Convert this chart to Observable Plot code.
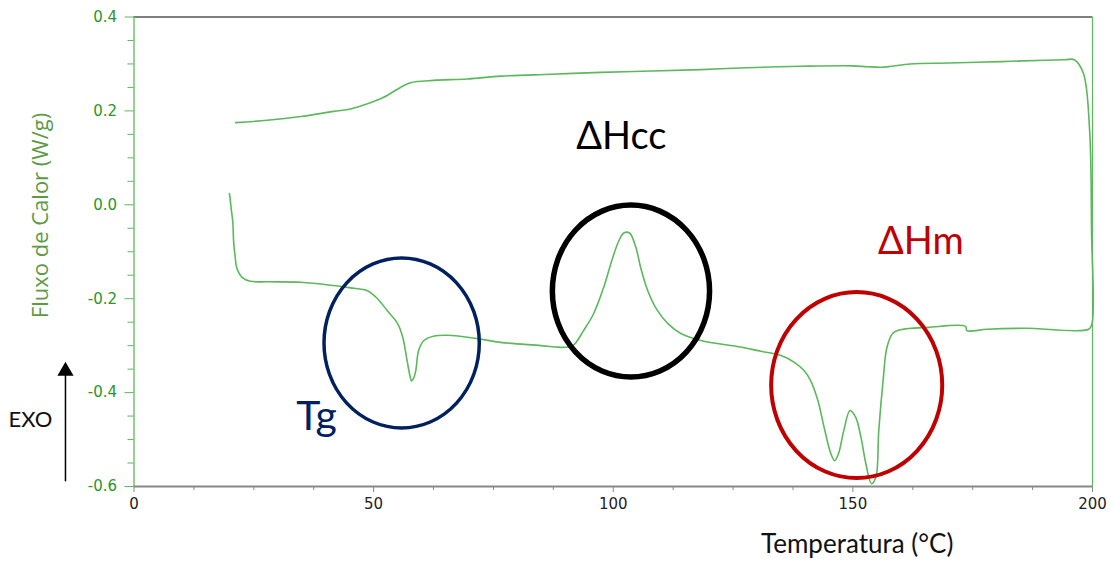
<!DOCTYPE html>
<html><head><meta charset="utf-8">
<script src="https://cdn.jsdelivr.net/npm/d3@7"></script>
<script src="https://cdn.jsdelivr.net/npm/@observablehq/plot@0.6"></script>
<style>body{margin:0;background:#fff} #chart svg{display:block}</style>
</head><body><div id="chart"></div>
<script>
// Heating trace (lower curve), left to right: temperature (°C) and heat flow (W/g)
const heatT = [19.9, 20.0, 20.3, 20.6, 20.8, 21.1, 21.4, 22.0, 22.6, 24.3, 28.0, 34.8, 41.6, 45.2, 48.7, 50.8, 52.9, 55.0, 56.1, 57.0, 57.6, 57.9, 58.4, 58.8, 59.4, 60.5, 62.5, 65.4, 71.7, 76.5, 84.9, 88.0, 90.5, 91.8, 93.8, 95.9, 98.0, 99.9, 101.2, 102.2, 103.4, 104.7, 105.7, 107.2, 109.2, 111.4, 114.1, 118.3, 126.6, 130.8, 135.0, 137.7, 139.8, 141.2, 142.7, 144.0, 145.4, 146.2, 147.0, 148.1, 149.4, 150.6, 151.7, 152.7, 153.9, 154.8, 155.4, 156.3, 157.1, 158.3, 160.0, 165.7, 173.5, 173.8, 178.0, 186.0, 199.2];
const heatV = [0.024, 0.018, -0.010, -0.035, -0.080, -0.110, -0.133, -0.147, -0.155, -0.163, -0.164, -0.165, -0.172, -0.177, -0.183, -0.200, -0.226, -0.253, -0.283, -0.333, -0.365, -0.375, -0.368, -0.353, -0.310, -0.289, -0.280, -0.278, -0.285, -0.293, -0.300, -0.303, -0.303, -0.298, -0.268, -0.232, -0.176, -0.112, -0.076, -0.060, -0.060, -0.090, -0.133, -0.183, -0.225, -0.253, -0.274, -0.289, -0.303, -0.312, -0.321, -0.335, -0.353, -0.375, -0.417, -0.474, -0.530, -0.545, -0.530, -0.481, -0.438, -0.453, -0.496, -0.551, -0.594, -0.580, -0.481, -0.375, -0.304, -0.274, -0.266, -0.261, -0.259, -0.268, -0.265, -0.263, -0.265];
// Turn at 200 °C (vertical segment)
const turnT = [199.9, 199.8, 199.4, 198.1];
const turnV = [-0.253, -0.055, 0.158, 0.280];
// Cooling trace (upper curve), right to left
const coolT = [196.2, 194.3, 190.0, 181.0, 170.0, 162.0, 158.0, 156.0, 153.0, 150.0, 139.2, 128.0, 118.3, 108.0, 97.4, 87.0, 76.5, 69.6, 62.5, 57.7, 55.6, 52.1, 48.7, 45.2, 41.7, 34.8, 27.8, 21.2];
const coolV = [0.309, 0.309, 0.308, 0.305, 0.302, 0.300, 0.295, 0.293, 0.294, 0.296, 0.295, 0.292, 0.288, 0.285, 0.282, 0.278, 0.274, 0.268, 0.265, 0.260, 0.250, 0.229, 0.215, 0.204, 0.199, 0.188, 0.180, 0.175];

// Axis ticks
const xTicks = [0, 50, 100, 150, 200];
const xMinor = [12.5, 25, 37.5, 62.5, 75, 87.5, 112.5, 125, 137.5, 162.5, 175, 187.5];
const yTicks = [-0.6, -0.4, -0.2, 0, 0.2, 0.4];
const yMinor = [-0.55, -0.5, -0.45, -0.35, -0.3, -0.25, -0.15, -0.1, -0.05, 0.05, 0.1, 0.15, 0.25, 0.3, 0.35];

// Annotation ellipses (centre and radii in data units)
const tgEllipse = [{T: 55.95, v: -0.2954, rT: 16.2, rv: 0.181}];
const hccEllipse = [{T: 103.8, v: -0.1847, rT: 16.4, rv: 0.183}];
const hmEllipse = [{T: 150.9, v: -0.385, rT: 17.85, rv: 0.198}];

// Annotation labels
const tgLabel = [{T: 38.1, v: -0.452, text: "Tg"}];
const hccLabel = [{T: 101.7, v: 0.1455, text: "ΔHcc"}];
const hmLabel = [{T: 164.2, v: -0.078, text: "ΔHm"}];
const exoLabel = [{T: -21.6, v: -0.458, text: "EXO"}];
const exoArrow = [{T: -14.3, v1: -0.59, v2: -0.36, head: -0.354}];

const trace = [
  ...heatT.map((T, i) => ({T, v: heatV[i]})),
  ...turnT.map((T, i) => ({T, v: turnV[i]})),
  ...coolT.map((T, i) => ({T, v: coolV[i]}))
];

const green = "#5cb85c";
const labelFont = "Lato, 'Open Sans', sans-serif";
const tickFont = "'DejaVu Sans', Verdana, sans-serif";

function ellipseMark(data, stroke, strokeWidth) {
  return (index, scales) => {
    const g = d3.create("svg:g");
    for (const d of data) {
      const cx = scales.x(d.T), cy = scales.y(d.v);
      g.append("ellipse")
        .attr("cx", cx).attr("cy", cy)
        .attr("rx", Math.abs(scales.x(d.T + d.rT) - cx))
        .attr("ry", Math.abs(scales.y(d.v + d.rv) - cy))
        .attr("fill", "none").attr("stroke", stroke).attr("stroke-width", strokeWidth);
    }
    return g.node();
  };
}

const plot = Plot.plot({
  width: 1111, height: 563,
  marginLeft: 133.5, marginRight: 19, marginTop: 16.5, marginBottom: 77,
  style: {fontFamily: tickFont, background: "#fff", overflow: "visible"},
  x: {domain: [0, 200]},
  y: {domain: [-0.6, 0.4]},
  marks: [
    Plot.ruleY([0.4], {stroke: "#555", strokeWidth: 1.3}),
    Plot.ruleX([200], {stroke: green, strokeWidth: 1.2}),
    Plot.axisY(yMinor, {tickSize: 6, text: null, stroke: green, label: null}),
    Plot.axisY(yTicks, {tickSize: 9, tickPadding: 8, stroke: green, fill: "#2a962a", tickFormat: d => d.toFixed(1), label: null}),
    Plot.ruleX([0], {stroke: green, strokeWidth: 1.3}),
    Plot.axisX(xMinor, {tickSize: 4, text: null, stroke: "#888", label: null}),
    Plot.axisX(xTicks, {tickSize: 6, tickPadding: 6, stroke: "#888", fill: "#222", label: null}),
    Plot.ruleY([-0.6], {stroke: "#888", strokeWidth: 2}),
    Plot.line(trace, {x: "T", y: "v", stroke: green, strokeWidth: 1.6, curve: "catmull-rom"}),
    ellipseMark(tgEllipse, "#002060", 3.5),
    ellipseMark(hccEllipse, "#000", 5.5),
    ellipseMark(hmEllipse, "#c00000", 4),
    Plot.text(tgLabel, {x: "T", y: "v", text: "text", fill: "#002060", fontSize: 41, fontFamily: labelFont}),
    Plot.text(hccLabel, {x: "T", y: "v", text: "text", fill: "#000", fontSize: 38, fontFamily: labelFont}),
    Plot.text(hmLabel, {x: "T", y: "v", text: "text", fill: "#c00000", fontSize: 38, fontFamily: labelFont}),
    Plot.text(exoLabel, {x: "T", y: "v", text: "text", fill: "#111", fontSize: 22, fontFamily: labelFont}),
    Plot.ruleX(exoArrow, {x: "T", y1: "v1", y2: "v2", stroke: "#000", strokeWidth: 1.5}),
    Plot.dot(exoArrow, {x: "T", y: "head", symbol: "triangle", r: 6, fill: "#000", stroke: null}),
    Plot.text(["Fluxo de Calor (W/g)"], {frameAnchor: "left", y: [-0.0228], dx: -93, rotate: -90, textAnchor: "middle", lineAnchor: "middle", fill: "#5e9a45", fontSize: 22, fontFamily: "'Open Sans', sans-serif"}),
    Plot.text(["Temperatura (°C)"], {frameAnchor: "bottom", x: [150.9], dy: 58, lineAnchor: "middle", fill: "#111", fontSize: 26, fontFamily: labelFont})
  ]
});
// enlarge the axis tick labels
d3.select(plot).selectAll('g[aria-label="y-axis tick label"], g[aria-label="x-axis tick label"]')
  .style("font-size", "15px").style("font-family", tickFont);
document.getElementById("chart").append(plot);
</script>
</body></html>
